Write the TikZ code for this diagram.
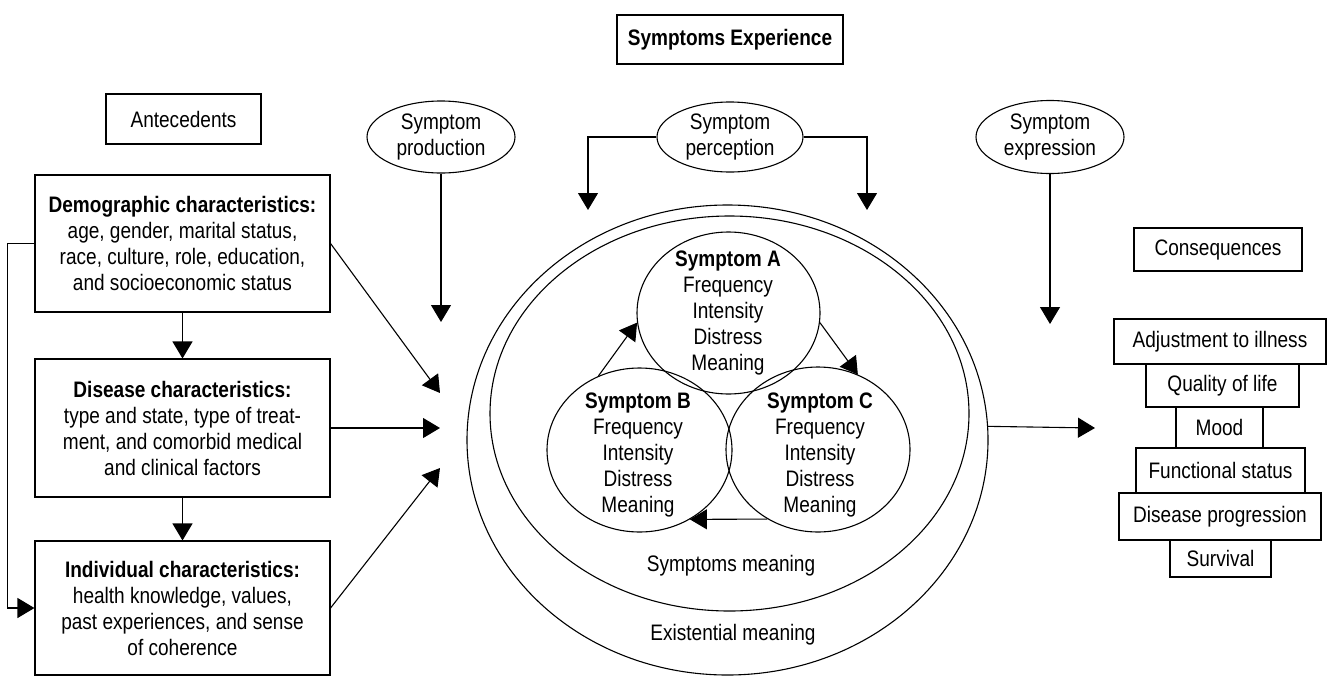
\documentclass[tikz,border=0pt]{standalone}
\usepackage{fontspec}
\setmainfont{Liberation Sans}[FakeStretch=0.85]
\usetikzlibrary{arrows.meta, shapes.geometric}

\begin{document}
\begin{tikzpicture}[
    x=1pt, y=-1pt,
    every node/.style={font=\fontsize{22.4}{26}\selectfont},
    box/.style={rectangle, draw, line width=1.1pt, align=center, inner sep=0pt},
    oval/.style={ellipse, draw, line width=1.1pt, align=center, inner sep=0pt},
    txt/.style={align=center, inner sep=0pt},
    arrow/.style={-{Triangle[width=20pt, length=17pt]}, line width=1.1pt},
]

%Background
\fill[white] (0, 0) rectangle (1333, 683);
\useasboundingbox (0, 0) rectangle (1333, 683);

% Titles
\node[box, minimum width=226, minimum height=49] (experience) at (730, 39.5) {\textbf{Symptoms Experience}};
\node[box, minimum width=155, minimum height=50] (antecedents) at (183.5, 119) {Antecedents};
\node[box, minimum width=168, minimum height=43] (consequences) at (1218, 249.5) {Consequences};

% Antecedents
\node[box, minimum width=295, minimum height=137] (demo) at (182.5, 243.5) {\textbf{Demographic characteristics:}\\age, gender, marital status,\\race, culture, role, education,\\and socioeconomic status};
\node[box, minimum width=295, minimum height=138] (disease) at (182.5, 428) {\textbf{Disease characteristics:}\\type and state, type of treat-\\ment, and comorbid medical\\and clinical factors};
\node[box, minimum width=295, minimum height=134] (indiv) at (182.5, 608) {\textbf{Individual characteristics:}\\health knowledge, values,\\past experiences, and sense\\of coherence};

% Symptom dimensions
\node[oval, minimum width=148, minimum height=72] (production) at (441, 137) {Symptom\\production};
\node[oval, minimum width=146, minimum height=70] (perception) at (730, 137) {Symptom\\perception};
\node[oval, minimum width=148, minimum height=73] (expression) at (1050, 137) {Symptom\\expression};

% Meaning ellipses
\node[oval, minimum width=521, minimum height=470] (existential) at (727.5, 440) {};
\node[oval, minimum width=479, minimum height=395] (meaning) at (729.5, 413.5) {};
\node[txt] (meaning_label) at (731, 566) {Symptoms meaning};
\node[txt] (existential_label) at (733, 635) {Existential meaning};

% Symptoms
\node[oval, minimum width=183, minimum height=162] (symA) at (728.5, 313) {};
\node[oval, minimum width=185, minimum height=164] (symB) at (639.5, 450) {};
\node[oval, minimum width=184, minimum height=165] (symC) at (818, 449.5) {};
\node[txt] (symA_text) at (728, 313) {\textbf{Symptom A}\\Frequency\\Intensity\\Distress\\Meaning};
\node[txt] (symB_text) at (638, 455) {\textbf{Symptom B}\\Frequency\\Intensity\\Distress\\Meaning};
\node[txt] (symC_text) at (820, 455) {\textbf{Symptom C}\\Frequency\\Intensity\\Distress\\Meaning};

% Consequences
\node[box, minimum width=212, minimum height=45] (adjustment) at (1220, 341.5) {Adjustment to illness};
\node[box, minimum width=153, minimum height=43] (quality) at (1222.5, 385.5) {Quality of life};
\node[box, minimum width=87, minimum height=41] (mood) at (1219.5, 427.5) {Mood};
\node[box, minimum width=169, minimum height=45] (functional) at (1220.5, 470.5) {Functional status};
\node[box, minimum width=202, minimum height=47] (progression) at (1220, 516.5) {Disease progression};
\node[box, minimum width=101, minimum height=37] (survival) at (1220.5, 558.5) {Survival};

% Free ends
\coordinate (in_demo) at (440, 393);
\coordinate (in_disease) at (440, 428);
\coordinate (in_indiv) at (440, 468);
\coordinate (production_end) at (441, 322);
\coordinate (perception_left) at (588, 210);
\coordinate (perception_right) at (867, 210);
\coordinate (expression_end) at (1050, 324);
\coordinate (out_end) at (1095, 428);

% Arrows
\draw[arrow] (demo) -- (disease);
\draw[arrow] (disease) -- (indiv);
\draw[arrow] (demo.west) -- ++(-27, 0) |- (indiv.west);
\draw[arrow] (demo.east) -- (in_demo);
\draw[arrow] (disease.east) -- (in_disease);
\draw[arrow] (indiv.east) -- (in_indiv);

\draw[arrow] (production) -- (production_end);
\draw[arrow] (perception.west) -| (perception_left);
\draw[arrow] (perception.east) -| (perception_right);
\draw[arrow] (expression) -- (expression_end);

\draw[arrow] (symB.119) -- (symA.186);
\draw[arrow] (symA.354) -- (symC.62);
\draw[arrow] (symC.234) -- (symB.306);

\draw[arrow] (existential.3) -- (out_end);

\end{tikzpicture}
\end{document}
